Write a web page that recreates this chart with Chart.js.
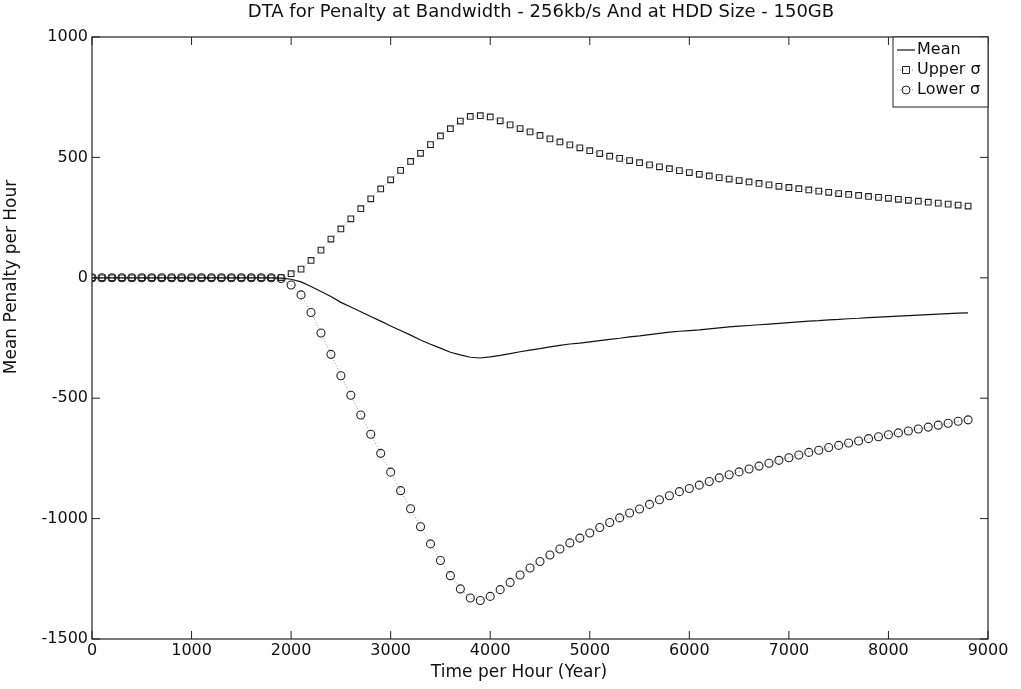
<!DOCTYPE html>
<html>
<head>
<meta charset="utf-8">
<script src="https://cdn.jsdelivr.net/npm/chart.js@4"></script>
<style>
  html, body { margin: 0; padding: 0; background: #fff; }
  #wrap { width: 1021px; height: 689px; position: relative; }
</style>
</head>
<body>
<div id="wrap"><canvas id="dtaChart"></canvas></div>
<script>
// time axis (hours)
const hours = [0,100,200,300,400,500,600,700,800,900,1000,1100,1200,1300,1400,1500,1600,1700,1800,1900,
  2000,2100,2200,2300,2400,2500,2600,2700,2800,2900,3000,3100,3200,3300,3400,3500,3600,3700,3800,3900,
  4000,4100,4200,4300,4400,4500,4600,4700,4800,4900,5000,5100,5200,5300,5400,5500,5600,5700,5800,5900,
  6000,6100,6200,6300,6400,6500,6600,6700,6800,6900,7000,7100,7200,7300,7400,7500,7600,7700,7800,7900,
  8000,8100,8200,8300,8400,8500,8600,8700,8800];

const meanPenalty = [0,0,0,0,0,0,0,0,0,0,0,0,0,0,0,0,0,0,0,-1,
  -6,-17,-36,-57,-78,-102,-121,-141,-161,-180,-200,-219,-238,-258,-276,-292,-309,-320,-330,-333,
  -328,-322,-315,-307,-300,-294,-287,-281,-275,-271,-266,-261,-256,-251,-245,-241,-236,-231,-226,-222,
  -219,-216,-212,-208,-204,-201,-198,-195,-192,-189,-186,-183,-180,-178,-175,-173,-170,-168,-165,-163,
  -161,-159,-157,-155,-153,-151,-149,-147,-146];

const upperSigma = [0,0,0,0,0,0,0,0,0,0,0,0,0,0,0,0,0,0,0,1,
  17,36,72,115,161,203,245,287,328,369,407,446,483,517,553,589,619,651,670,673,
  668,652,635,620,606,591,577,564,552,540,528,516,505,496,487,478,469,461,453,445,
  437,430,423,416,410,404,398,392,386,380,375,370,365,360,355,350,346,342,338,334,
  330,326,322,318,314,310,306,302,298];

const lowerSigma = [0,0,0,0,0,0,0,0,0,0,0,0,0,0,0,0,0,0,0,-3,
  -30,-71,-144,-229,-318,-407,-488,-570,-650,-729,-807,-884,-959,-1034,-1105,-1174,-1237,-1292,-1330,-1340,
  -1323,-1295,-1265,-1234,-1205,-1178,-1151,-1126,-1101,-1081,-1060,-1037,-1016,-997,-977,-960,-941,-922,-905,-888,
  -875,-861,-846,-831,-818,-806,-794,-782,-770,-758,-747,-736,-725,-716,-705,-696,-686,-678,-668,-660,
  -652,-644,-636,-628,-620,-612,-604,-596,-590];

const xTicks = [0,1000,2000,3000,4000,5000,6000,7000,8000,9000];
const yTicks = [-1500,-1000,-500,0,500,1000];

const FONT = "'DejaVu Sans', 'Liberation Sans', sans-serif";
const pts = arr => hours.map((h, i) => ({ x: h, y: arr[i] }));

// matlab style box, inward ticks, titles and legend
const matlabFrame = {
  id: "matlabFrame",
  afterDraw(chart) {
    const { ctx, chartArea: a, scales } = chart;
    ctx.save();
    ctx.strokeStyle = "#222";
    ctx.lineWidth = 1.2;
    ctx.strokeRect(a.left, a.top, a.right - a.left, a.bottom - a.top);

    const len = 8;
    ctx.lineWidth = 1;
    ctx.beginPath();
    xTicks.forEach(v => {
      const px = scales.x.getPixelForValue(v);
      ctx.moveTo(px, a.bottom); ctx.lineTo(px, a.bottom - len);
      ctx.moveTo(px, a.top); ctx.lineTo(px, a.top + len);
    });
    yTicks.forEach(v => {
      const py = scales.y.getPixelForValue(v);
      ctx.moveTo(a.left, py); ctx.lineTo(a.left + len, py);
      ctx.moveTo(a.right, py); ctx.lineTo(a.right - len, py);
    });
    ctx.stroke();

    ctx.fillStyle = "#111";
    ctx.textAlign = "center";
    ctx.textBaseline = "middle";

    // title
    ctx.font = "18px " + FONT;
    ctx.fillText("DTA for Penalty at Bandwidth - 256kb/s And at HDD Size - 150GB", 541, 12);

    // x axis title
    ctx.font = "17px " + FONT;
    ctx.fillText("Time per Hour (Year)", 519, 673);

    // y axis title
    ctx.save();
    ctx.translate(12, 277);
    ctx.rotate(-Math.PI / 2);
    ctx.fillText("Mean Penalty per Hour", 0, 0);
    ctx.restore();

    // legend
    const lx = a.right - 95, ly = a.top, lw = 95, lh = 70;
    ctx.fillStyle = "#fff";
    ctx.fillRect(lx, ly, lw, lh);
    ctx.strokeStyle = "#222";
    ctx.lineWidth = 1;
    ctx.strokeRect(lx, ly, lw, lh);
    chart.data.datasets.forEach((ds, i) => {
      const y = ly + 13 + i * 20;
      ctx.strokeStyle = ds.borderColor;
      ctx.lineWidth = ds.borderWidth;
      ctx.setLineDash(ds.borderDash || []);
      ctx.beginPath();
      ctx.moveTo(lx + 4, y); ctx.lineTo(lx + 22, y);
      ctx.stroke();
      ctx.setLineDash([]);
      if (ds.pointRadius > 0) {
        ctx.strokeStyle = ds.pointBorderColor;
        ctx.lineWidth = 1;
        ctx.beginPath();
        if (ds.pointStyle === "rect") {
          ctx.rect(lx + 13 - 3.5, y - 3.5, 7, 7);
        } else {
          ctx.arc(lx + 13, y, 4, 0, Math.PI * 2);
        }
        ctx.stroke();
      }
      ctx.fillStyle = "#111";
      ctx.font = "16px " + FONT;
      ctx.textAlign = "left";
      ctx.fillText(ds.label, lx + 24, y);
    });
    ctx.restore();
  }
};

const chart = new Chart(document.getElementById("dtaChart"), {
  type: "line",
  data: {
    datasets: [
      {
        label: "Mean",
        data: pts(meanPenalty),
        borderColor: "#111",
        borderWidth: 1.2,
        pointRadius: 0,
        tension: 0
      },
      {
        label: "Upper σ",
        data: pts(upperSigma),
        borderColor: "#999",
        borderWidth: 1,
        borderDash: [1, 2],
        pointStyle: "rect",
        pointRadius: 4,
        pointBorderColor: "#222",
        pointBackgroundColor: "rgba(255,255,255,0)",
        pointBorderWidth: 1.1,
        tension: 0
      },
      {
        label: "Lower σ",
        data: pts(lowerSigma),
        borderColor: "#999",
        borderWidth: 1,
        borderDash: [1, 2],
        pointStyle: "circle",
        pointRadius: 4,
        pointBorderColor: "#222",
        pointBackgroundColor: "rgba(255,255,255,0)",
        pointBorderWidth: 1.1,
        tension: 0
      }
    ]
  },
  options: {
    responsive: true,
    maintainAspectRatio: false,
    animation: false,
    layout: { padding: { left: 0, right: 33, top: 37, bottom: 0 } },
    plugins: {
      legend: { display: false },
      title: { display: false },
      tooltip: { enabled: false }
    },
    scales: {
      x: {
        type: "linear",
        min: 0,
        max: 9000,
        afterBuildTicks: s => { s.ticks = xTicks.map(v => ({ value: v })); },
        afterFit: s => { s.height = 50; },
        grid: { display: false, drawTicks: false },
        border: { display: false },
        ticks: { color: "#111", font: { family: FONT, size: 16 }, padding: 2, maxRotation: 0, callback: v => String(v) },
        title: { display: false }
      },
      y: {
        min: -1500,
        max: 1000,
        afterBuildTicks: s => { s.ticks = yTicks.map(v => ({ value: v })); },
        afterFit: s => { s.width = 92; },
        grid: { display: false, drawTicks: false },
        border: { display: false },
        ticks: { color: "#111", font: { family: FONT, size: 16 }, padding: 4, callback: v => String(v) },
        title: { display: false }
      }
    }
  },
  plugins: [matlabFrame]
});
</script>
</body>
</html>
